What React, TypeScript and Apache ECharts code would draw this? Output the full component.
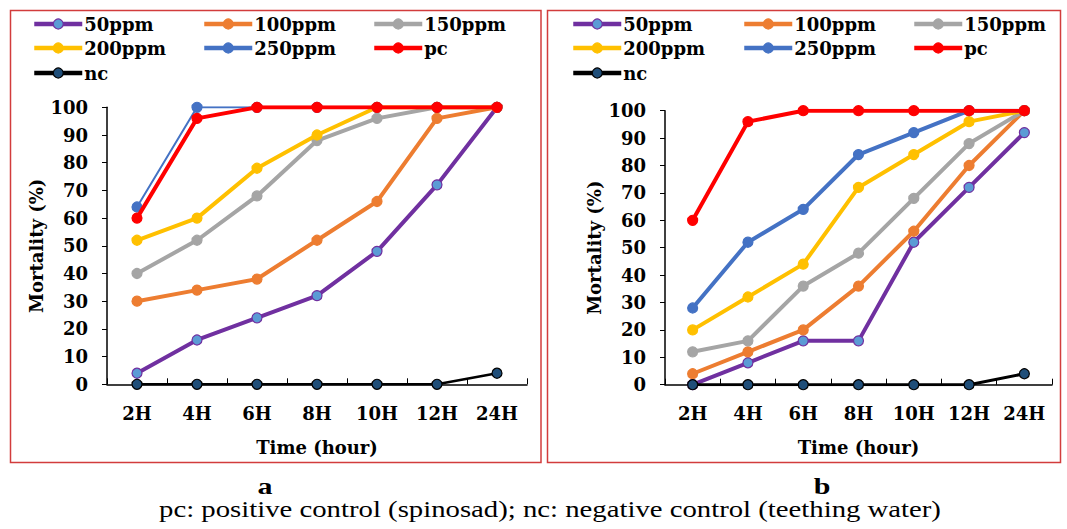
import React, { useEffect, useRef } from "react";
import * as echarts from "echarts";

const categories = ["2H", "4H", "6H", "8H", "10H", "12H", "24H"];
const seriesNames = ["50ppm", "100ppm", "150ppm", "200ppm", "250ppm", "pc", "nc"];

// Panel a
const a50 = [4, 16, 24, 32, 48, 72, 100];
const a100 = [30, 34, 38, 52, 66, 96, 100];
const a150 = [40, 52, 68, 88, 96, 100, 100];
const a200 = [52, 60, 78, 90, 100, 100, 100];
const a250 = [64, 100, 100, 100, 100, 100, 100];
const aPc = [60, 96, 100, 100, 100, 100, 100];
const aNc = [0, 0, 0, 0, 0, 0, 4];

// Panel b
const b50 = [0, 8, 16, 16, 52, 72, 92];
const b100 = [4, 12, 20, 36, 56, 80, 100];
const b150 = [12, 16, 36, 48, 68, 88, 100];
const b200 = [20, 32, 44, 72, 84, 96, 100];
const b250 = [28, 52, 64, 84, 92, 100, 100];
const bPc = [60, 96, 100, 100, 100, 100, 100];
const bNc = [0, 0, 0, 0, 0, 0, 4];

const yTicks = { min: 0, max: 100, interval: 10 };

const lineColors = ["#7030A0", "#ED7D31", "#A5A5A5", "#FFC000", "#4472C4", "#FF0000", "#000000"];
const markerFills = ["#5B9BD5", "#ED7D31", "#A5A5A5", "#FFC000", "#4472C4", "#FF0000", "#1F4E79"];
const widthsA = [4, 4, 4, 4, 2, 4, 2.5];
const widthsB = [4, 4, 4, 4, 4, 4, 3];

const BOLD_FONT = "DejaVu Serif";

export default function App() {
  const ref = useRef<HTMLDivElement>(null);

  useEffect(() => {
    if (!ref.current) return;
    const chart = echarts.init(ref.current, undefined, { renderer: "svg" });

    const dataA = [a50, a100, a150, a200, a250, aPc, aNc];
    const dataB = [b50, b100, b150, b200, b250, bPc, bNc];

    const mkSeries = (data: number[][], widths: number[], idx: number) =>
      data.map((d, i) => ({
        name: seriesNames[i],
        type: "line",
        xAxisIndex: idx,
        yAxisIndex: idx,
        data: d,
        symbol: "circle",
        symbolSize: 10,
        lineStyle: { color: lineColors[i], width: widths[i] },
        itemStyle: {
          color: markerFills[i],
          borderColor: lineColors[i],
          borderWidth: 1.2,
        },
        emphasis: { disabled: true },
        z: 2 + i,
      }));

    const labelStyle = {
      fontFamily: BOLD_FONT,
      fontWeight: "bold" as const,
      fontSize: 18,
      color: "#000",
    };

    const grids = [
      { left: 107, top: 107.3, width: 420, height: 277 },
      { left: 665, top: 110.7, width: 387, height: 274 },
    ];

    const xAxes = grids.map((_, i) => ({
      type: "category",
      gridIndex: i,
      data: categories,
      boundaryGap: true,
      axisLine: { show: true, lineStyle: { color: "#000", width: 1.5 } },
      axisTick: { show: true, inside: true, length: 6, lineStyle: { color: "#000", width: 1 } },
      axisLabel: { ...labelStyle, margin: 20 },
      splitLine: { show: false },
      name: "Time (hour)",
      nameLocation: "middle",
      nameGap: 54,
      nameTextStyle: { ...labelStyle },
    }));

    const yAxes = grids.map((_, i) => ({
      type: "value",
      gridIndex: i,
      min: yTicks.min,
      max: yTicks.max,
      interval: yTicks.interval,
      axisLine: { show: true, lineStyle: { color: "#000", width: 1.5 } },
      axisTick: { show: true, inside: false, length: 5, lineStyle: { color: "#000", width: 1 } },
      axisLabel: { ...labelStyle, margin: 19 },
      splitLine: { show: false },
      name: "Mortality (%)",
      nameLocation: "middle",
      nameGap: 62,
      nameTextStyle: { ...labelStyle },
    }));

    const legendCols = [
      [32, 202, 372],
      [571, 742, 912],
    ];
    const legendRows = [15, 39, 64];
    const legends: any[] = [];
    legendCols.forEach((cols) => {
      seriesNames.forEach((name, i) => {
        legends.push({
          data: [name],
          left: cols[i % 3],
          top: legendRows[Math.floor(i / 3)],
          itemWidth: 48,
          itemHeight: 12.5,
          padding: 0,
          selectedMode: false,
          lineStyle: { width: 4.5 },
          itemStyle: { borderWidth: 1.2 },
          textStyle: { ...labelStyle, fontSize: 18, padding: [0, 0, 0, -3] },
        });
      });
    });

    const option: any = {
      animation: false,
      backgroundColor: "#ffffff",
      grid: grids,
      xAxis: xAxes,
      yAxis: yAxes,
      legend: legends,
      series: [...mkSeries(dataA, widthsA, 0), ...mkSeries(dataB, widthsB, 1)],
      graphic: [
        {
          type: "rect",
          silent: true,
          z: -10,
          shape: { x: 10.5, y: 10.5, width: 530.5, height: 452 },
          style: { fill: "none", stroke: "#D23C3C", lineWidth: 1.5 },
        },
        {
          type: "rect",
          silent: true,
          z: -10,
          shape: { x: 547.5, y: 10.5, width: 513, height: 452 },
          style: { fill: "none", stroke: "#D23C3C", lineWidth: 1.5 },
        },
        {
          type: "text",
          x: 265,
          y: 486,
          scaleX: 1.25,
          silent: true,
          style: {
            text: "a",
            fontFamily: "Liberation Serif",
            fontWeight: "bold",
            fontSize: 24,
            fill: "#000",
            textAlign: "center",
            textVerticalAlign: "middle",
          },
        },
        {
          type: "text",
          x: 822,
          y: 486,
          scaleX: 1.25,
          silent: true,
          style: {
            text: "b",
            fontFamily: "Liberation Serif",
            fontWeight: "bold",
            fontSize: 24,
            fill: "#000",
            textAlign: "center",
            textVerticalAlign: "middle",
          },
        },
        {
          type: "text",
          x: 550,
          y: 509,
          scaleX: 1.25,
          silent: true,
          style: {
            text: "pc: positive control (spinosad); nc: negative control (teething water)",
            fontFamily: "Liberation Serif",
            fontSize: 23,
            fill: "#000",
            textAlign: "center",
            textVerticalAlign: "middle",
          },
        },
      ],
    };

    chart.setOption(option);
    return () => chart.dispose();
  }, []);

  return (
    <div
      ref={ref}
      style={{ position: "absolute", left: 0, top: 0, width: 1067, height: 529, background: "#fff" }}
    />
  );
}
